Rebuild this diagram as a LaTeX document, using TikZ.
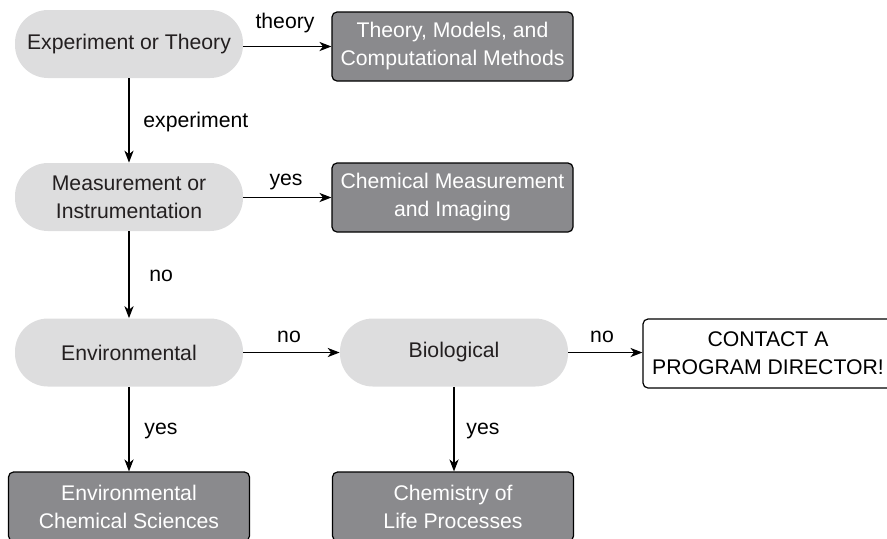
\documentclass[tikz,border=0pt]{standalone}
\usepackage{fontspec}
\setmainfont{Liberation Sans}
\usetikzlibrary{arrows.meta}
\definecolor{pillgray}{RGB}{221,221,222}
\definecolor{boxgray}{RGB}{138,138,141}
\definecolor{txt}{RGB}{35,31,32}
\begin{document}
\begin{tikzpicture}[x=0.5pt,y=-0.5pt,
  every node/.style={font=\fontsize{10.6}{14}\selectfont, align=center, inner sep=0pt},
  pill/.style={fill=pillgray, text=txt, minimum width=114pt, minimum height=34pt, rounded corners=16.5pt},
  darkbox/.style={fill=boxgray, draw=black, line width=0.6pt, text=white, minimum width=120.5pt, minimum height=34.5pt, rounded corners=2.5pt},
  whitebox/.style={fill=white, draw=black, line width=0.6pt, text=black, minimum width=125pt, minimum height=34.5pt, rounded corners=2.5pt},
  conn/.style={-{Stealth[length=6pt,width=4.6pt,inset=1.8pt]}, line width=0.6pt},
  lab/.style={text=black}]
\useasboundingbox (0,0) rectangle (887,538);

% nodes
\node[pill] (exp) at (129,44) {Experiment or Theory};
\node[darkbox] (theo) at (452.5,46.5) {Theory, Models, and\\Computational Methods};
\node[pill] (meas) at (129,197) {Measurement or\\Instrumentation};
\node[darkbox] (chem) at (452.5,197.5) {Chemical Measurement\\and Imaging};
\node[pill] (env) at (129,352.5) {Environmental};
\node[pill] (bio) at (454,352.5) {Biological};
\node[whitebox] (contact) at (768,353.5) {CONTACT A\\PROGRAM DIRECTOR!};
\node[darkbox] (ecs) at (129,506.5) {Environmental\\Chemical Sciences};
\node[darkbox] (clp) at (453,506.5) {Chemistry of\\Life Processes};

% connectors
\draw[conn] (exp.east |- theo.west) -- (theo.west);
\draw[conn] (exp.south) -- (meas.north);
\draw[conn] (meas.east |- chem.west) -- (chem.west);
\draw[conn] (meas.south) -- (env.north);
\draw[conn] (env.east) -- (bio.west);
\draw[conn] (bio.east) -- (contact.west |- bio.east);
\draw[conn] (env.south) -- (ecs.north);
\draw[conn] (bio.south) -- (bio.south |- clp.north);

% labels
\node[lab, anchor=base] (ltheory) at (285,28) {theory};
\node[lab, anchor=west] (lexp) at (143,122) {experiment};
\node[lab, anchor=base] (lyes1) at (286,185) {yes};
\node[lab, anchor=west] (lno1) at (149,276) {no};
\node[lab, anchor=base] (lno2) at (289,342) {no};
\node[lab, anchor=base] (lno3) at (602,342) {no};
\node[lab, anchor=west] (lyes2) at (144,431) {yes};
\node[lab, anchor=west] (lyes3) at (466,431) {yes};
\end{tikzpicture}
\end{document}
